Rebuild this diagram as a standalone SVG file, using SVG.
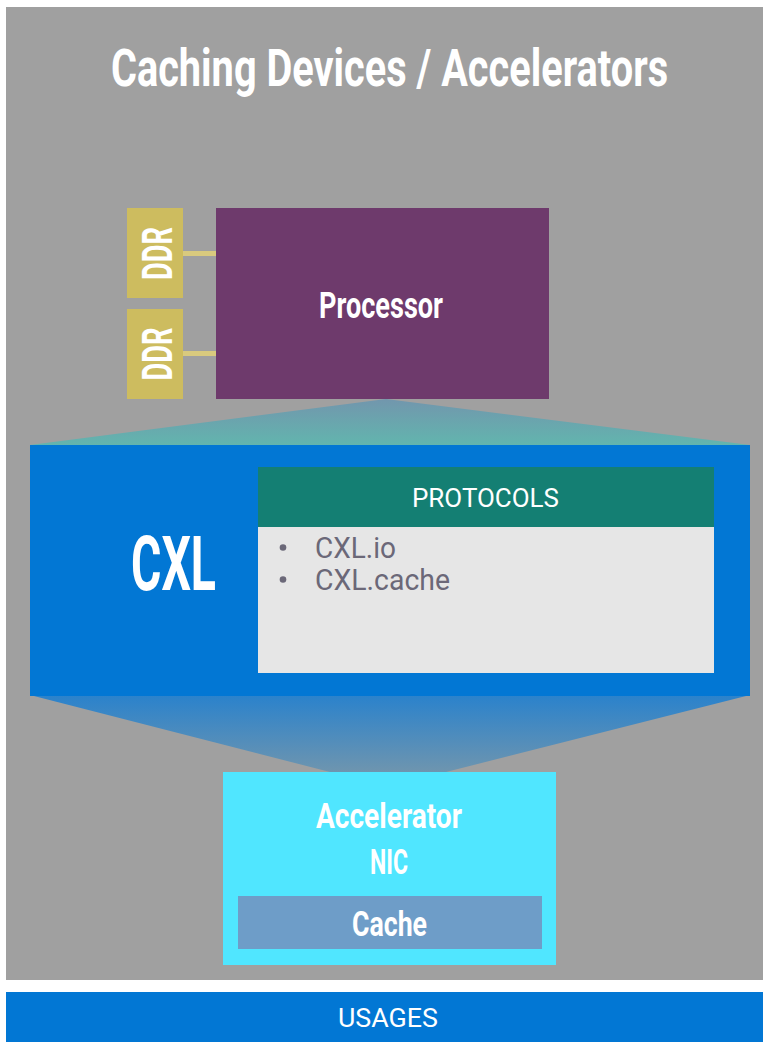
<svg xmlns="http://www.w3.org/2000/svg" width="763" height="1042" viewBox="0 0 763 1042">
  <style>
    .bold { font-family: "Liberation Sans Narrow", "Roboto", "Liberation Sans", sans-serif; font-weight: 700; fill: #ffffff; }
    .reg { font-family: "Roboto", "Noto Sans", "Liberation Sans", sans-serif; font-weight: 400; }
    .mid { text-anchor: middle; }
  </style>
  <defs>
    <linearGradient id="fanTop" x1="0" y1="0" x2="0" y2="1">
      <stop offset="0" stop-color="#7296AD"/>
      <stop offset="1" stop-color="#62B5AE"/>
    </linearGradient>
    <linearGradient id="fanBottom" x1="0" y1="0" x2="0" y2="1">
      <stop offset="0" stop-color="#2A82CC"/>
      <stop offset="1" stop-color="#6E95AF"/>
    </linearGradient>
  </defs>

  <rect width="763" height="1042" fill="#ffffff"/>
  <!-- panel background -->
  <rect x="6" y="7" width="757" height="973" fill="#A0A0A0"/>
  <!-- title: narrowed horizontally to a condensed look -->
  <text class="bold mid" transform="translate(389.5,86) scale(0.7,1)" font-size="51" textLength="796" lengthAdjust="spacingAndGlyphs">Caching Devices / Accelerators</text>

  <!-- connectors: memory links and the fans into/out of the CXL layer -->
  <g id="connectors">
    <rect x="183" y="251" width="33" height="5" fill="#D9CA7E"/>
    <rect x="183" y="351" width="33" height="5" fill="#D9CA7E"/>
    <polygon points="386,399 750,445 30,445" fill="url(#fanTop)"/>
    <polygon points="30,695 750,695 446,772 330,772" fill="url(#fanBottom)"/>
  </g>

  <g id="ddr1">
    <rect x="127" y="208" width="56" height="90" fill="#CDBC5F"/>
    <text class="bold mid" transform="translate(172,253.5) rotate(-90)" font-size="43" textLength="53" lengthAdjust="spacingAndGlyphs">DDR</text>
  </g>
  <g id="ddr2">
    <rect x="127" y="309" width="56" height="90" fill="#CDBC5F"/>
    <text class="bold mid" transform="translate(172,354) rotate(-90)" font-size="43" textLength="53" lengthAdjust="spacingAndGlyphs">DDR</text>
  </g>

  <g id="processor">
    <rect x="216" y="208" width="333" height="191" fill="#6E3A6C"/>
    <text class="bold mid" x="381" y="318" font-size="36" textLength="124" lengthAdjust="spacingAndGlyphs">Processor</text>
  </g>

  <g id="cxl">
    <rect x="30" y="445" width="720" height="251" fill="#0277D4"/>
    <text class="bold mid" x="173.5" y="590" font-size="76" textLength="85" lengthAdjust="spacingAndGlyphs">CXL</text>
  </g>

  <g id="protocols">
    <rect x="258" y="467" width="456" height="60" fill="#147F73"/>
    <rect x="258" y="527" width="456" height="146" fill="#E6E6E6"/>
    <text class="reg mid" x="485.5" y="507" font-size="25" fill="#ffffff" textLength="147" lengthAdjust="spacingAndGlyphs">PROTOCOLS</text>
    <circle cx="283" cy="547.5" r="3.3" fill="#6B6878"/>
    <circle cx="283" cy="579.5" r="3.3" fill="#6B6878"/>
    <text class="reg" x="315" y="558" font-size="29" fill="#6B6878" textLength="81" lengthAdjust="spacingAndGlyphs">CXL.io</text>
    <text class="reg" x="315" y="590" font-size="29" fill="#6B6878" textLength="135" lengthAdjust="spacingAndGlyphs">CXL.cache</text>
  </g>

  <g id="accelerator">
    <rect x="223" y="772" width="333" height="193" fill="#50E6FF"/>
    <text class="bold mid" x="389" y="828" font-size="35" textLength="146" lengthAdjust="spacingAndGlyphs">Accelerator</text>
    <text class="bold mid" x="389" y="874" font-size="35" textLength="38" lengthAdjust="spacingAndGlyphs">NIC</text>
  </g>

  <g id="cache">
    <rect x="238" y="896" width="304" height="53" fill="#6E9DC8"/>
    <text class="bold mid" x="389.5" y="936" font-size="35" textLength="75" lengthAdjust="spacingAndGlyphs">Cache</text>
  </g>

  <g id="usages">
    <rect x="6" y="992" width="757" height="50" fill="#0277D4"/>
    <text class="reg mid" x="388" y="1027" font-size="26" fill="#ffffff" textLength="100" lengthAdjust="spacingAndGlyphs">USAGES</text>
  </g>
</svg>
